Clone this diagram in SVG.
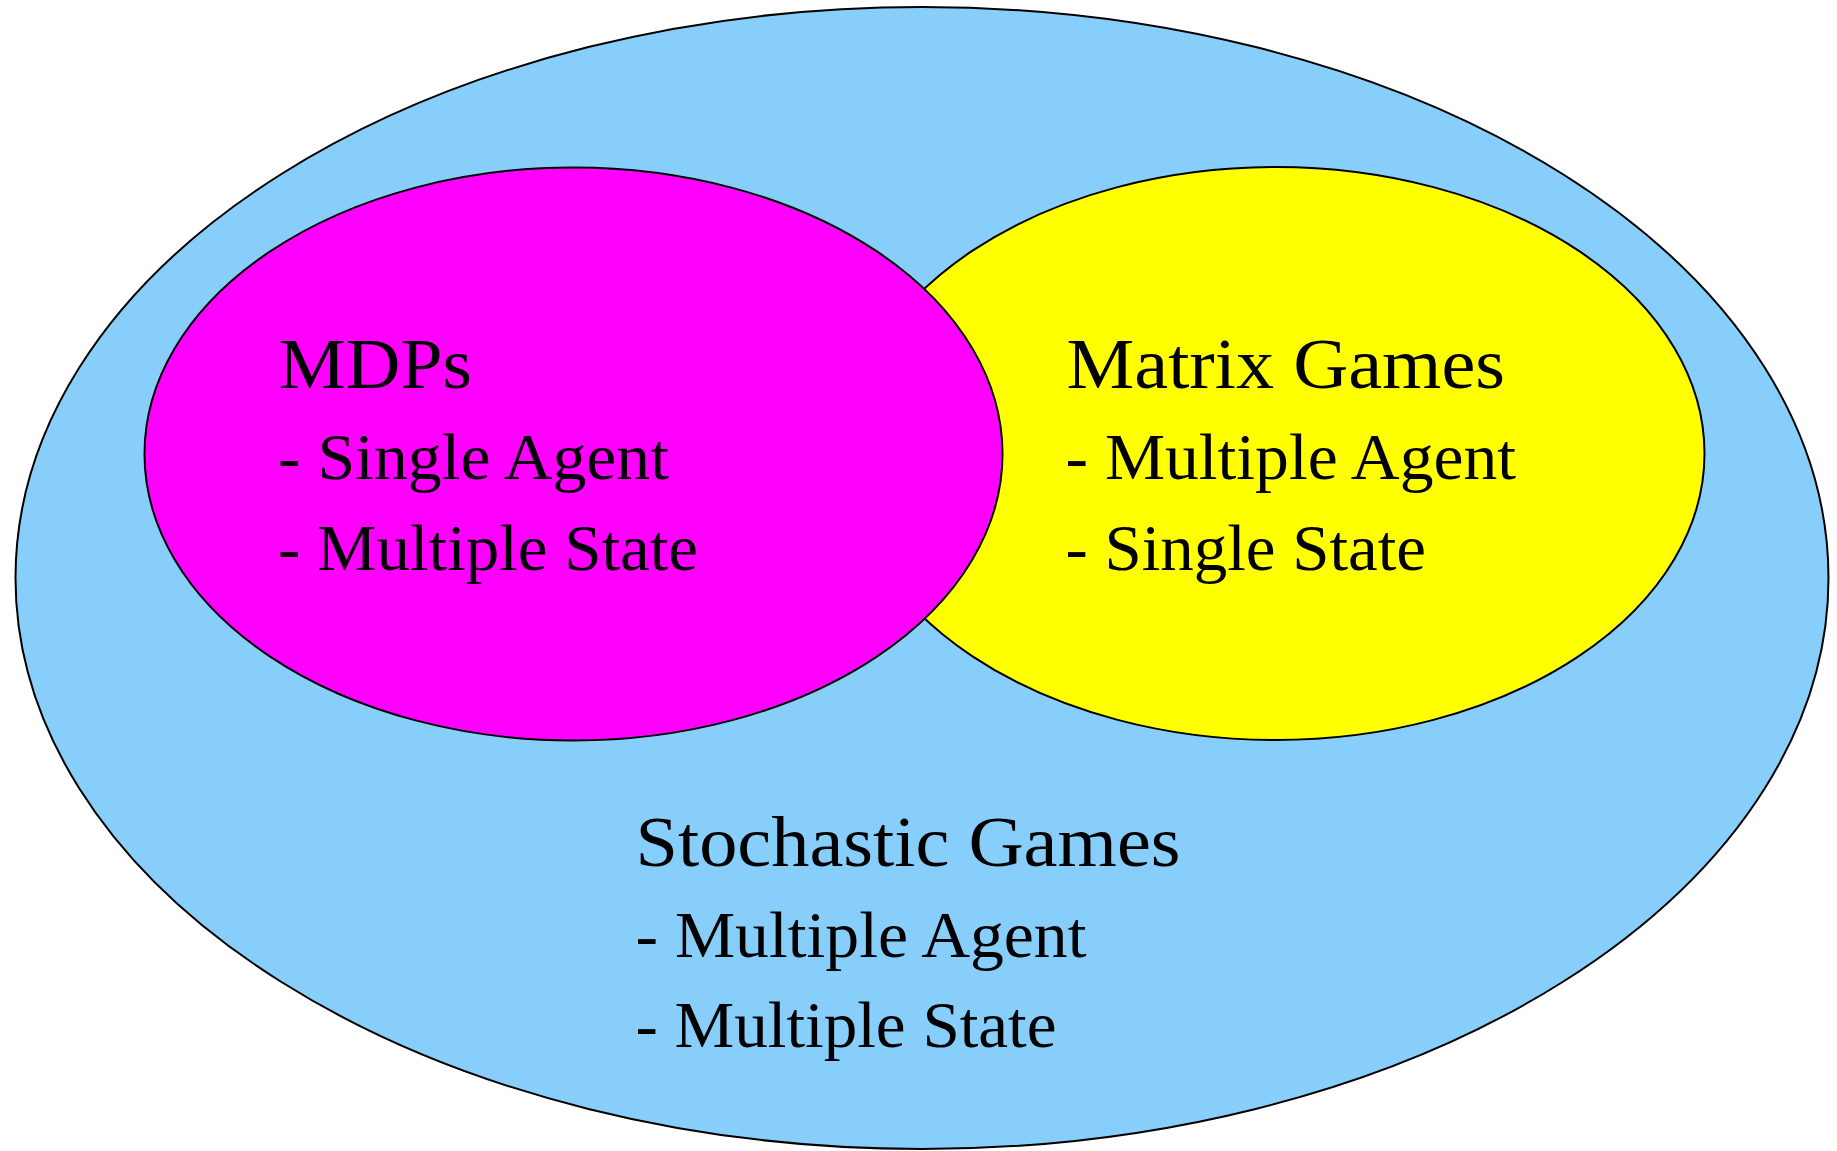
<svg xmlns="http://www.w3.org/2000/svg" width="1837" height="1151" viewBox="0 0 1837 1151">
<style>
.shape{stroke:#000;stroke-width:2}
.h{font-family:"Liberation Serif","Times New Roman",serif;font-size:72px;fill:#000}
.b{font-family:"Liberation Serif","Times New Roman",serif;font-size:66px;fill:#000}
</style>
<rect width="1837" height="1151" fill="#fff"/>
<g id="stochastic">
<ellipse class="shape" cx="922" cy="578" rx="906.5" ry="571" fill="#87cefa"/>
<text class="h" x="635.5" y="866" textLength="545" lengthAdjust="spacingAndGlyphs">Stochastic Games</text>
<text class="b" x="635.5" y="957" textLength="451" lengthAdjust="spacingAndGlyphs">- Multiple Agent</text>
<text class="b" x="635.5" y="1047" textLength="421" lengthAdjust="spacingAndGlyphs">- Multiple State</text>
</g>
<g id="matrix">
<ellipse class="shape" cx="1275.5" cy="453.5" rx="429" ry="286.5" fill="#ffff00"/>
<text class="h" x="1066.5" y="388" textLength="438.5" lengthAdjust="spacingAndGlyphs">Matrix Games</text>
<text class="b" x="1065.5" y="479" textLength="450.5" lengthAdjust="spacingAndGlyphs">- Multiple Agent</text>
<text class="b" x="1065.5" y="570" textLength="360.5" lengthAdjust="spacingAndGlyphs">- Single State</text>
</g>
<g id="mdps">
<ellipse class="shape" cx="573.5" cy="454" rx="429" ry="286.5" fill="#ff00ff"/>
<text class="h" x="278.5" y="388" textLength="193.5" lengthAdjust="spacingAndGlyphs">MDPs</text>
<text class="b" x="278" y="479" textLength="391" lengthAdjust="spacingAndGlyphs">- Single Agent</text>
<text class="b" x="278" y="570" textLength="420" lengthAdjust="spacingAndGlyphs">- Multiple State</text>
</g>
<g id="connectors"/>
</svg>
